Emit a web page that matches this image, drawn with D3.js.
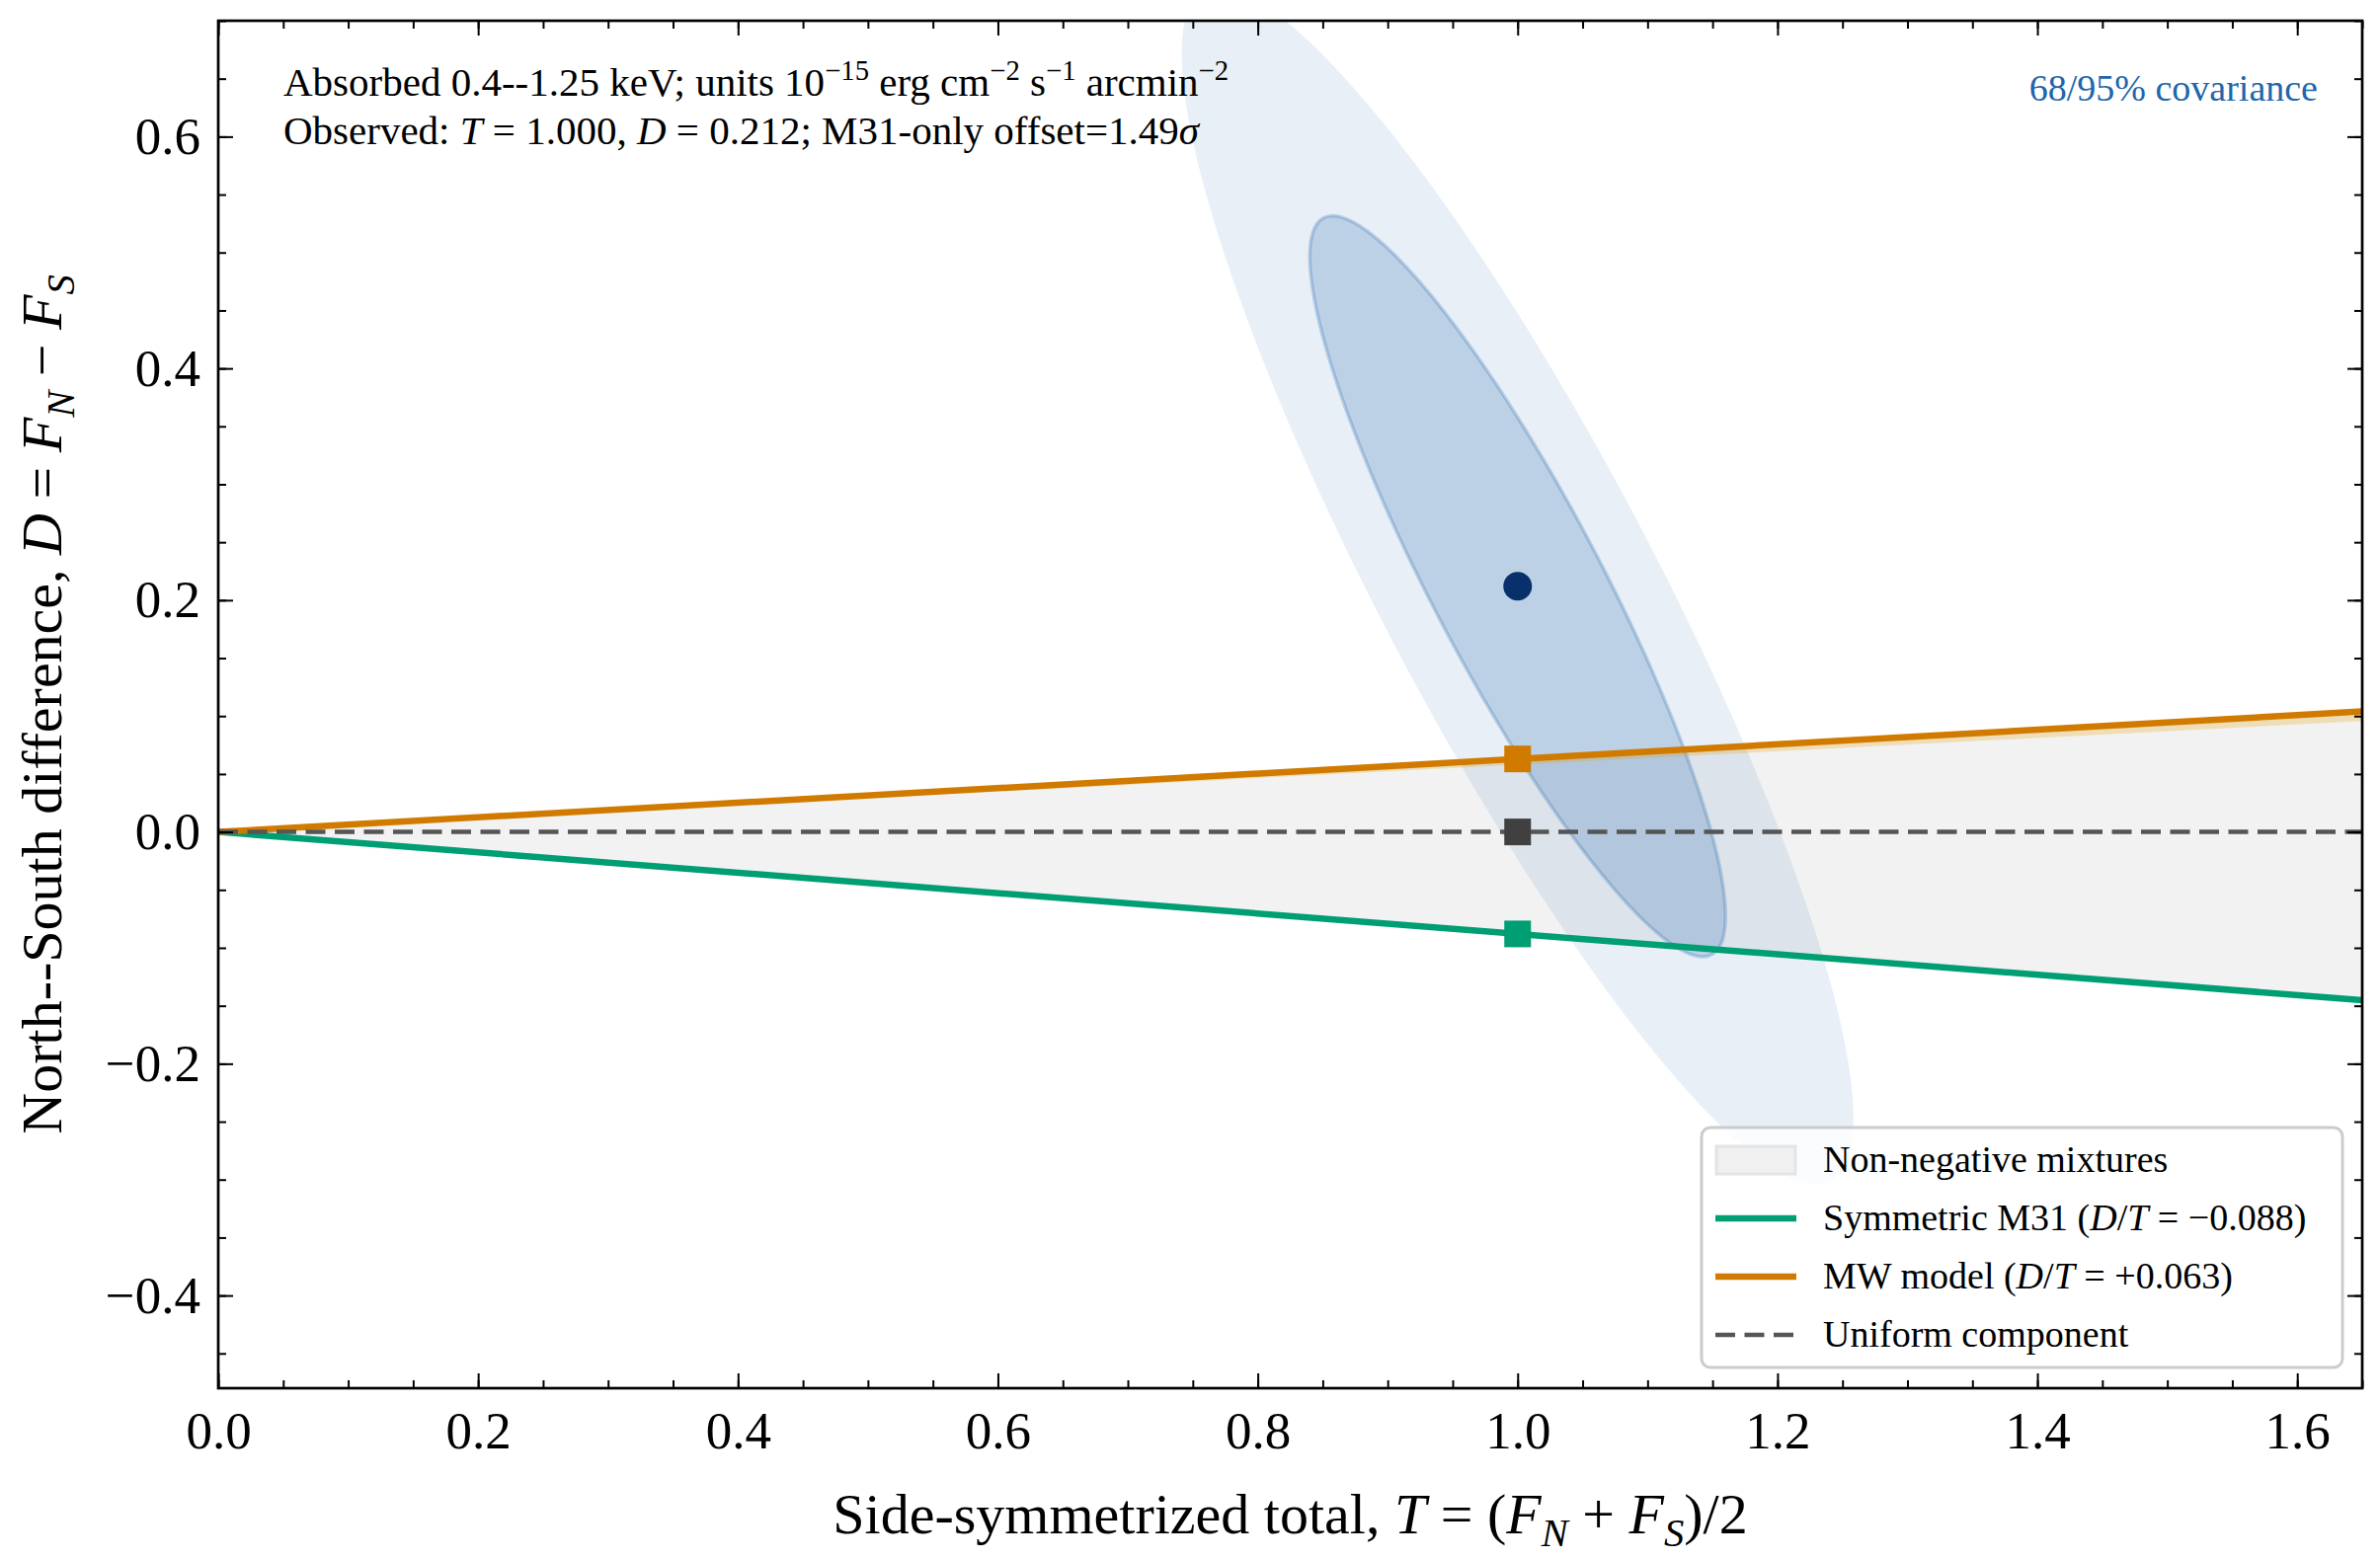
<!DOCTYPE html>
<html>
<head>
<meta charset="utf-8">
<script src="https://cdn.jsdelivr.net/npm/d3@7"></script>
<style>
  html, body { margin: 0; padding: 0; background: #fff; }
  svg text { font-family: "Liberation Serif", "Times New Roman", serif; fill: #000; }
</style>
</head>
<body>
<div id="chart"></div>
<script>
// data
const xTicks = [0, 0.2, 0.4, 0.6, 0.8, 1.0, 1.2, 1.4, 1.6];
const xTickLabels = ['0.0', '0.2', '0.4', '0.6', '0.8', '1.0', '1.2', '1.4', '1.6'];
const yTicks = [-0.4, -0.2, 0, 0.2, 0.4, 0.6];
const yTickLabels = ['\u22120.4', '\u22120.2', '0.0', '0.2', '0.4', '0.6'];
const xMinor = d3.range(0, 1.651, 0.05);
const yMinor = d3.range(-0.45, 0.701, 0.05);

const modelKeys = ['m31', 'mw', 'uniform'];
const modelSlopes = [-0.088, 0.063, 0.0];   // D/T of each component
const modelColors = ['#009e73', '#d17a00', '#404040'];
const tExtent = [0, 1.65];
const mwBand = [0.058, 0.063];              // faint band under the MW line

const obsT = 1.0;
const obsD = 0.212;
const sigT = 0.1056;
const sigD = 0.211;
const rhoTD = -0.89;
const ellipseK = [2.448, 1.515];            // 95%, 68% (chi2, 2 dof)

const W = 2410, H = 1579;
const margin = { left: 221, right: 18, top: 21, bottom: 173 };

const svg = d3.select('#chart').append('svg')
  .attr('width', W).attr('height', H)
  .attr('viewBox', `0 0 ${W} ${H}`);

const x = d3.scaleLinear().domain([0, 1.65]).range([margin.left, W - margin.right]);
const y = d3.scaleLinear().domain([-0.48, 0.70]).range([H - margin.bottom, margin.top]);

svg.append('clipPath').attr('id', 'plot-clip')
  .append('rect')
  .attr('x', x(0)).attr('y', y(0.70))
  .attr('width', x(1.65) - x(0)).attr('height', y(-0.48) - y(0.70));

const g = svg.append('g').attr('clip-path', 'url(#plot-clip)');

// non-negative mixture wedge between the two model lines
const wedge = tExtent.map(t => [t, modelSlopes[0] * t, modelSlopes[1] * t]);
g.append('path')
  .datum(wedge)
  .attr('d', d3.area().x(d => x(d[0])).y0(d => y(d[1])).y1(d => y(d[2])))
  .attr('fill', '#f2f2f2');

// covariance ellipses
function ellipse(k) {
  const c = Math.sqrt(1 - rhoTD * rhoTD);
  return d3.range(0, 361, 2).map(a => {
    const th = a * Math.PI / 180;
    return [obsT + k * sigT * Math.cos(th),
            obsD + k * sigD * (rhoTD * Math.cos(th) + c * Math.sin(th))];
  });
}
const eLine = d3.line().x(d => x(d[0])).y(d => y(d[1])).curve(d3.curveLinearClosed);
g.append('path').datum(ellipse(ellipseK[0])).attr('d', eLine)
  .attr('fill', '#2166ac').attr('fill-opacity', 0.1).attr('stroke', 'none');
g.append('path').datum(ellipse(ellipseK[1])).attr('d', eLine)
  .attr('fill', '#2166ac').attr('fill-opacity', 0.22)
  .attr('stroke', '#2166ac').attr('stroke-opacity', 0.25).attr('stroke-width', 3.5);

// MW band
g.append('path')
  .datum(tExtent.map(t => [t, mwBand[0] * t, mwBand[1] * t]))
  .attr('d', d3.area().x(d => x(d[0])).y0(d => y(d[1])).y1(d => y(d[2])))
  .attr('fill', '#e69f00').attr('fill-opacity', 0.25);

// model lines
const lineGen = d3.line().x(d => x(d[0])).y(d => y(d[1]));
modelKeys.forEach((k, i) => {
  const p = g.append('path')
    .datum(tExtent.map(t => [t, modelSlopes[i] * t]))
    .attr('d', lineGen)
    .attr('fill', 'none');
  if (k === 'uniform') {
    p.attr('stroke', '#555555').attr('stroke-width', 4.5).attr('stroke-dasharray', '20,9.5');
  } else {
    p.attr('stroke', modelColors[i]).attr('stroke-width', 6.5);
  }
});

// model predictions at the observed total
g.selectAll('rect.pred')
  .data(modelKeys)
  .join('rect')
  .attr('class', 'pred')
  .attr('x', x(obsT) - 13.5)
  .attr('y', (d, i) => y(modelSlopes[i] * obsT) - 13.5)
  .attr('width', 27).attr('height', 27)
  .attr('fill', (d, i) => modelColors[i]);

g.append('circle')
  .attr('cx', x(obsT)).attr('cy', y(obsD)).attr('r', 14.5)
  .attr('fill', '#08306b');

// axes, ticks inward on all sides
function styleAxis(sel) {
  sel.select('.domain').remove();
  sel.selectAll('.tick line').attr('stroke', '#000').attr('stroke-width', 2);
  sel.selectAll('.tick text').attr('font-size', 53).attr('fill', '#000')
    .attr('font-family', '"Liberation Serif", serif');
}
const pBottom = H - margin.bottom, pTop = margin.top;
const pLeft = margin.left, pRight = W - margin.right;

svg.append('g').attr('transform', `translate(0,${pBottom})`)
  .call(d3.axisBottom(x).tickValues(xTicks).tickFormat((d, i) => xTickLabels[i]).tickSize(-15).tickPadding(23))
  .call(styleAxis);
svg.append('g').attr('transform', `translate(0,${pBottom})`)
  .call(d3.axisBottom(x).tickValues(xMinor).tickFormat('').tickSize(-8)).call(styleAxis);
svg.append('g').attr('transform', `translate(0,${pTop})`)
  .call(d3.axisTop(x).tickValues(xTicks).tickFormat('').tickSize(-15)).call(styleAxis);
svg.append('g').attr('transform', `translate(0,${pTop})`)
  .call(d3.axisTop(x).tickValues(xMinor).tickFormat('').tickSize(-8)).call(styleAxis);

svg.append('g').attr('transform', `translate(${pLeft},0)`)
  .call(d3.axisLeft(y).tickValues(yTicks).tickFormat((d, i) => yTickLabels[i]).tickSize(-15).tickPadding(18))
  .call(styleAxis);
svg.append('g').attr('transform', `translate(${pLeft},0)`)
  .call(d3.axisLeft(y).tickValues(yMinor).tickFormat('').tickSize(-8)).call(styleAxis);
svg.append('g').attr('transform', `translate(${pRight},0)`)
  .call(d3.axisRight(y).tickValues(yTicks).tickFormat('').tickSize(-15)).call(styleAxis);
svg.append('g').attr('transform', `translate(${pRight},0)`)
  .call(d3.axisRight(y).tickValues(yMinor).tickFormat('').tickSize(-8)).call(styleAxis);

svg.append('rect')
  .attr('x', pLeft).attr('y', pTop).attr('width', pRight - pLeft).attr('height', pBottom - pTop)
  .attr('fill', 'none').attr('stroke', '#000').attr('stroke-width', 2.7);

// mixed roman / italic / sub / sup text
function rich(sel, parts, size) {
  let shift = 0;
  parts.forEach(p => {
    const s = p.sub ? 0.22 * size : p.sup ? -0.4 * size : 0;
    const ts = sel.append('tspan').text(p.t);
    if (p.i) ts.attr('font-style', 'italic');
    if (p.sub || p.sup) ts.attr('font-size', size * 0.7);
    if (s !== shift) ts.attr('dy', s - shift);
    shift = s;
  });
  return sel;
}
const sp = '\u2005';

const labelSize = 58;
rich(svg.append('text').attr('x', (pLeft + pRight) / 2).attr('y', 1553)
  .attr('text-anchor', 'middle').attr('font-size', labelSize), [
  { t: 'Side-symmetrized total, ' }, { t: 'T', i: true }, { t: `${sp}=${sp}(` },
  { t: 'F', i: true }, { t: 'N', i: true, sub: true }, { t: `${sp}+${sp}` },
  { t: 'F', i: true }, { t: 'S', i: true, sub: true }, { t: ')/2' }
], labelSize);

rich(svg.append('text')
  .attr('transform', `translate(62,${(pTop + pBottom) / 2}) rotate(-90)`)
  .attr('text-anchor', 'middle').attr('font-size', labelSize), [
  { t: 'North--South difference, ' }, { t: 'D', i: true }, { t: `${sp}=${sp}` },
  { t: 'F', i: true }, { t: 'N', i: true, sub: true }, { t: `${sp}\u2212${sp}` },
  { t: 'F', i: true }, { t: 'S', i: true, sub: true }
], labelSize);

// annotations
const fs = 38, afs = 41;
rich(svg.append('text').attr('x', 287).attr('y', 97).attr('font-size', afs), [
  { t: 'Absorbed 0.4--1.25 keV; units 10' }, { t: '\u221215', sup: true },
  { t: ' erg cm' }, { t: '\u22122', sup: true }, { t: ' s' }, { t: '\u22121', sup: true },
  { t: ' arcmin' }, { t: '\u22122', sup: true }
], afs);
rich(svg.append('text').attr('x', 287).attr('y', 146).attr('font-size', afs), [
  { t: 'Observed: ' }, { t: 'T', i: true }, { t: `${sp}=${sp}1.000, ` },
  { t: 'D', i: true }, { t: `${sp}=${sp}0.212; M31-only offset=1.49` }, { t: '\u03c3', i: true }
], afs);
svg.append('text').attr('x', 2347).attr('y', 102).attr('text-anchor', 'end')
  .attr('font-size', fs).style('fill', '#2166ac').text('68/95% covariance');

// legend
const lg = svg.append('g');
lg.append('rect').attr('x', 1723).attr('y', 1142).attr('width', 649).attr('height', 243)
  .attr('rx', 9).attr('fill', '#fff').attr('fill-opacity', 0.8)
  .attr('stroke', '#cccccc').attr('stroke-width', 3);
const legendItems = [
  { kind: 'patch', parts: [{ t: 'Non-negative mixtures' }] },
  { kind: 'line', color: modelColors[0], parts: [{ t: 'Symmetric M31 (' }, { t: 'D', i: true }, { t: '/' }, { t: 'T', i: true }, { t: `${sp}=${sp}\u22120.088)` }] },
  { kind: 'line', color: modelColors[1], parts: [{ t: 'MW model (' }, { t: 'D', i: true }, { t: '/' }, { t: 'T', i: true }, { t: `${sp}=${sp}+0.063)` }] },
  { kind: 'dash', color: '#555555', parts: [{ t: 'Uniform component' }] }
];
legendItems.forEach((it, i) => {
  const cy = 1175 + i * 59;
  if (it.kind === 'patch') {
    lg.append('rect').attr('x', 1738).attr('y', cy - 14).attr('width', 80).attr('height', 28)
      .attr('fill', '#f0f0f0').attr('stroke', '#e4e4e4').attr('stroke-width', 3);
  } else {
    lg.append('line').attr('x1', 1737).attr('x2', 1819).attr('y1', cy).attr('y2', cy)
      .attr('stroke', it.color).attr('stroke-width', it.kind === 'dash' ? 4.5 : 6.5)
      .attr('stroke-dasharray', it.kind === 'dash' ? '20,9.5' : null);
  }
  rich(lg.append('text').attr('x', 1846).attr('y', cy + 12).attr('font-size', fs), it.parts, fs);
});
</script>
</body>
</html>
